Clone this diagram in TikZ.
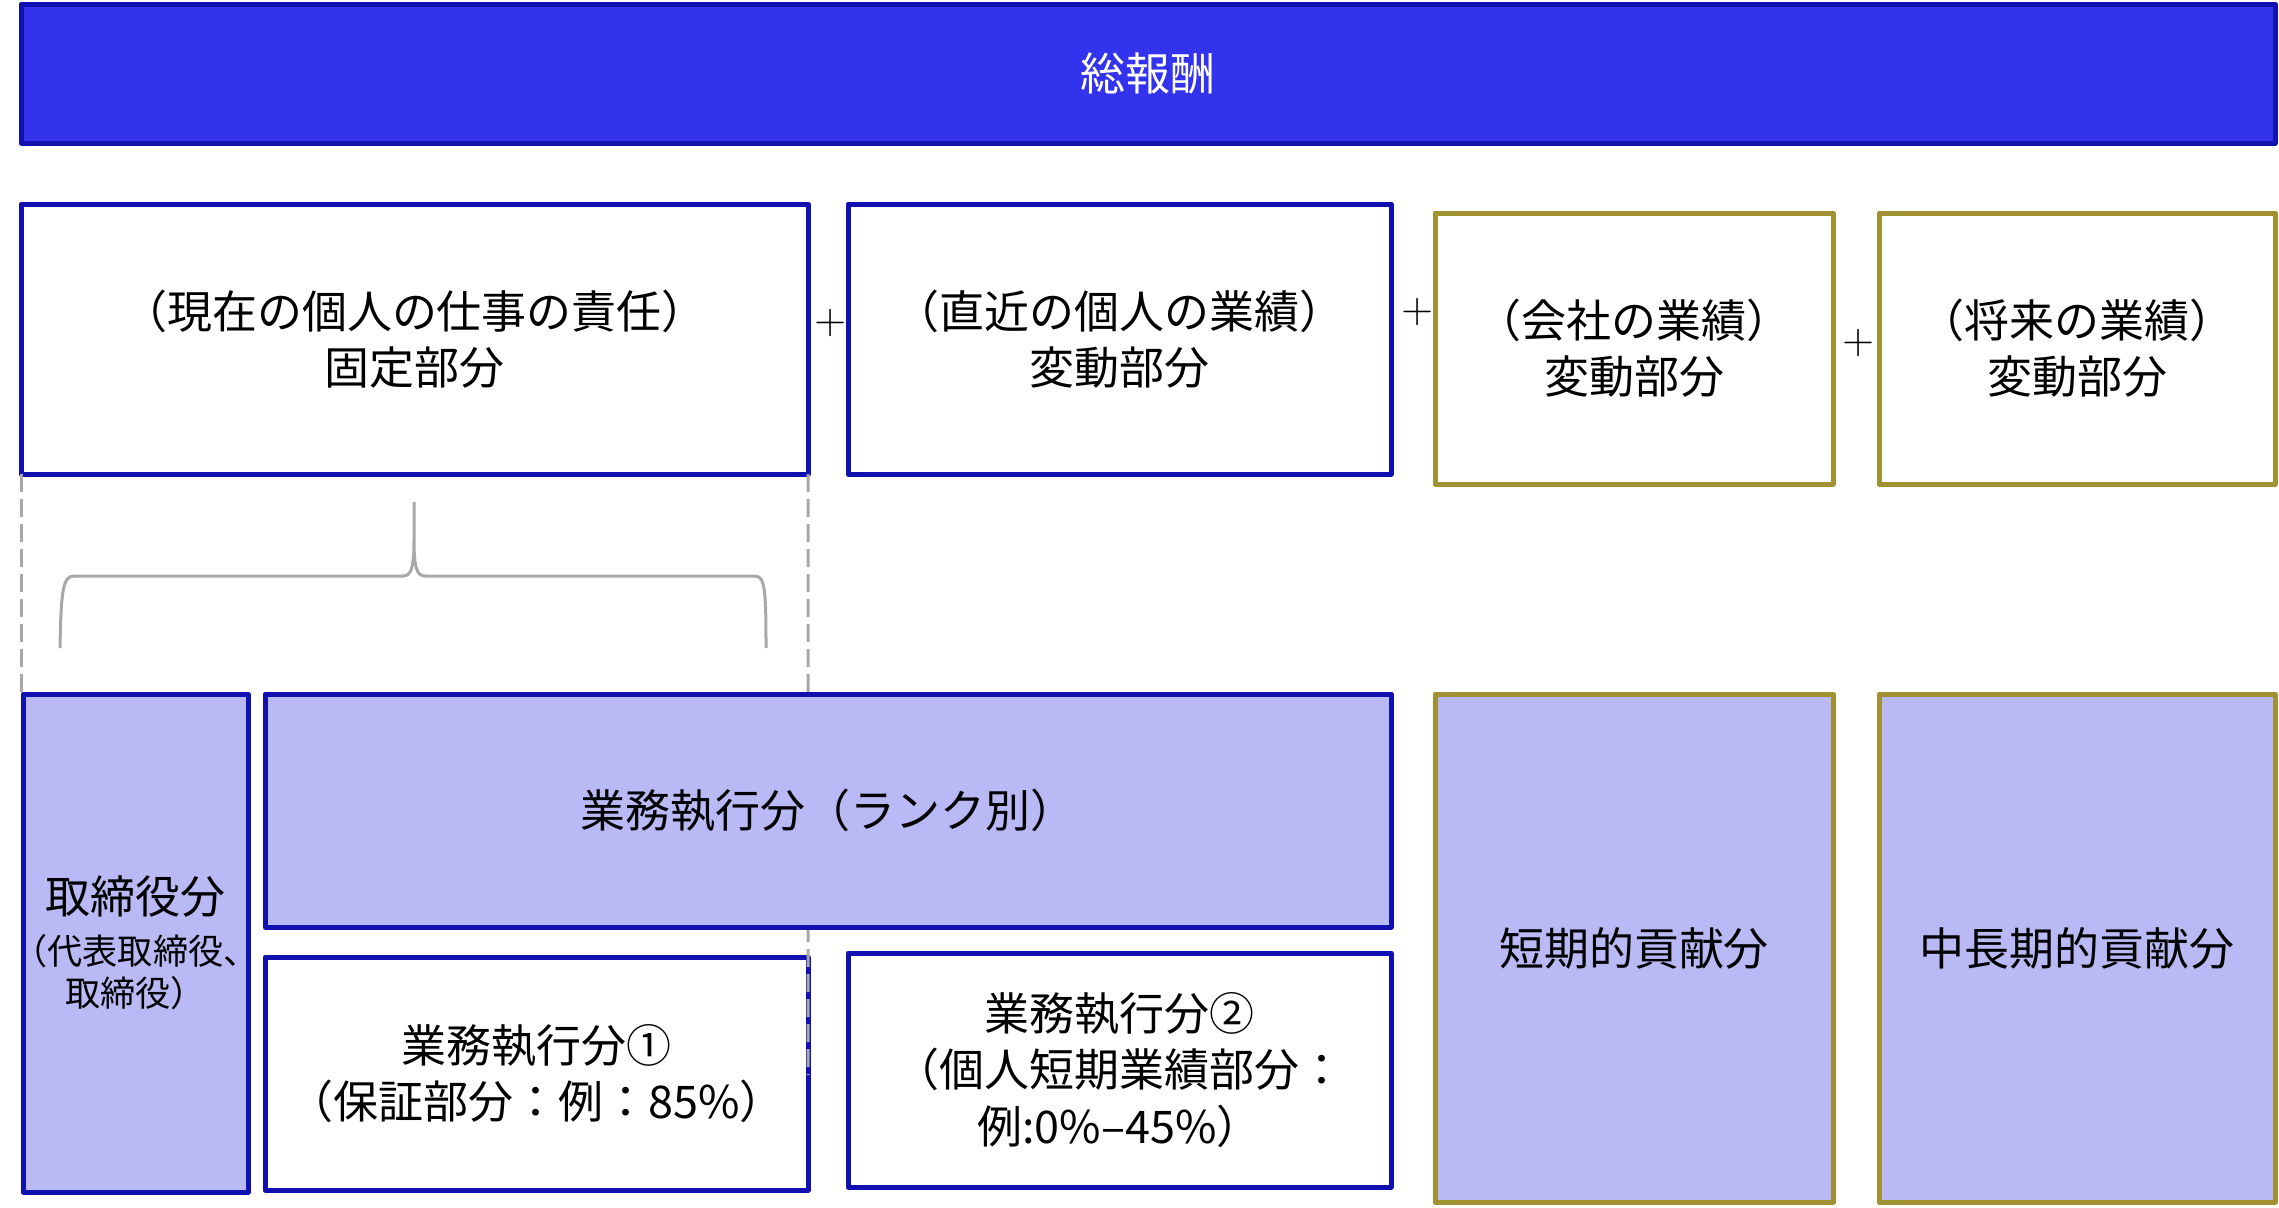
\documentclass[tikz,border=0pt]{standalone}
\usepackage{fontspec}
\setmainfont{Noto Sans CJK JP}
\newfontfamily\plusfont{Latin Modern Roman}
\usepackage{tikz}
\usetikzlibrary{positioning}

\definecolor{frameblue}{RGB}{17,17,178}
\definecolor{barblue}{RGB}{51,51,238}
\definecolor{softblue}{RGB}{185,185,245}
\definecolor{frameolive}{RGB}{160,145,50}
\definecolor{guidegray}{RGB}{168,168,168}

\newcommand{\bigtext}{\fontsize{12.8}{16}\selectfont}
\newcommand{\smalltext}{\fontsize{10}{12}\selectfont}

\tikzset{
	every node/.style={
		font=\bigtext
	},
	bluebox/.style={
		shape=rectangle,
		draw=frameblue,
		line width=0.5mm,
		line join=round,
		fill=white,
		inner sep=0pt,
		outer sep=0pt,
		align=center,
		anchor=north west
	},
	olivebox/.style={
		bluebox,
		draw=frameolive
	},
	shaded/.style={
		fill=softblue
	},
	plussign/.style={
		font=\plusfont\fontsize{12}{12}\selectfont,
		inner sep=0pt
	},
	guide/.style={
		draw=guidegray,
		line width=0.3mm,
		dash pattern=on 1.8mm off 0.7mm
	},
	brace/.style={
		draw=guidegray,
		line width=0.3mm
	}
}

\begin{document}
\begin{tikzpicture}[x=0.1mm,y=-0.1mm,semithick]
  \useasboundingbox (0,0) rectangle (2279,1207);

  \node[bluebox, fill=barblue, text=white, minimum width=225.4mm, minimum height=13.9mm] (total) at (21,4) {総報酬};

  \node[bluebox, minimum width=78.7mm, minimum height=27mm] (fixed) at (21,204) {（現在の個人の仕事の責任）\\固定部分};
  \node[bluebox, minimum width=54.3mm, minimum height=27mm] (recent) [right=4mm of fixed.north east, anchor=north west] {（直近の個人の業績）\\変動部分};
  \node[olivebox, minimum width=39.8mm, minimum height=27.1mm] (company) at (1435,213) {（会社の業績）\\変動部分};
  \node[olivebox, minimum width=39.6mm, minimum height=27.1mm] (future) at (1879,213) {（将来の業績）\\変動部分};

  \node[plussign] (plusA) at (831,323) {+};
  \node[plussign] (plusB) at (1418,312) {+};
  \node[plussign] (plusC) at (1859,343) {+};

  \node[bluebox, minimum width=54.3mm, minimum height=23.3mm] (guaranteed) at (265,957) {業務執行分①\\（保証部分：例：85\%）};
  \node[bluebox, minimum width=54.3mm, minimum height=23.4mm] (personal) at (848,953) {業務執行分②\\（個人短期業績部分：\\例:0\%–45\%）};
  \node[olivebox, shaded, minimum width=39.8mm, minimum height=50.8mm] (shortterm) at (1435,694) {短期的貢献分};
  \node[olivebox, shaded, minimum width=39.6mm, minimum height=50.8mm] (longterm) at (1879,694) {中長期的貢献分};

  % guides under the fixed part
  \coordinate (guideL) at (21,694);
  \coordinate (guideR) at (808,1075);
  \draw[guide] (fixed.south west) -- (guideL);
  \draw[guide] (fixed.south east) -- (guideR);
  \draw[brace] (60,648) .. controls (61,590) and (63,576) .. (74,576) -- (403,576)
    .. controls (411,576) and (414,568) .. (414,540) -- (414,502) -- (414,540)
    .. controls (414,568) and (417,576) .. (425,576) -- (755,576)
    .. controls (765,576) and (766,590) .. (766,648);

  \node[bluebox, shaded, minimum width=22.5mm, minimum height=49.8mm] (director) at (23,694) {取締役分\\[-1.5pt]\smalltext\makebox[0pt]{（代表取締役、}\\[-4pt]\smalltext 取締役）};
  \node[bluebox, shaded, minimum width=112.6mm, minimum height=23.3mm] (rank) at (265,694) {業務執行分（ランク別）};
\end{tikzpicture}
\end{document}
